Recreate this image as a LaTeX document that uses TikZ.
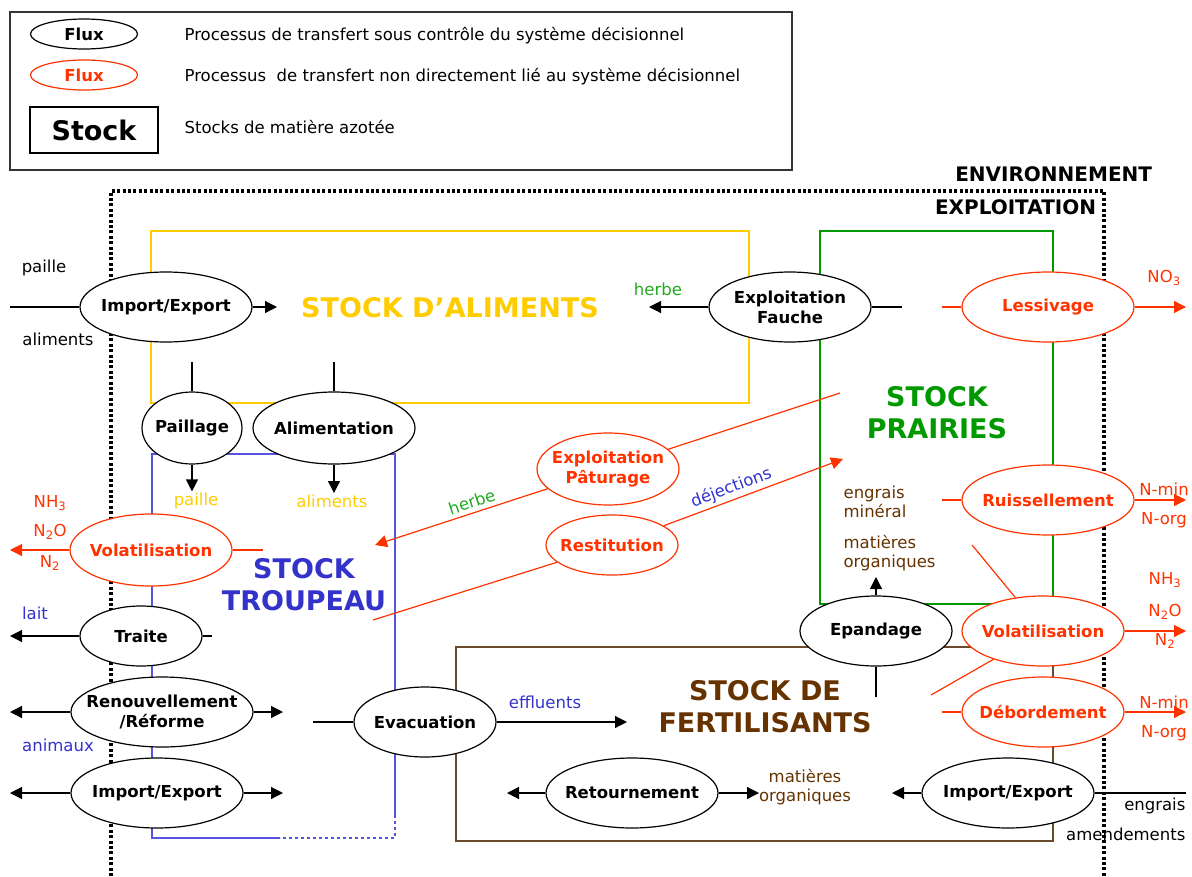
\documentclass[tikz,border=0pt]{standalone}
\usepackage{fontspec}
\setmainfont{DejaVu Sans}
\usetikzlibrary{shapes.geometric,arrows.meta}

\definecolor{rouge}{HTML}{FF3300}
\definecolor{jaune}{HTML}{FFCC00}
\definecolor{vert}{HTML}{009900}
\definecolor{vertclair}{HTML}{22AA22}
\definecolor{bleu}{HTML}{3333CC}
\definecolor{bleuclair}{HTML}{5555DD}
\definecolor{brun}{HTML}{663300}
\definecolor{brunclair}{HTML}{6B4A2B}

\newcommand\fluxfont{\fontsize{16.5}{20}\selectfont\bfseries}
\newcommand\txtfont{\fontsize{16.5}{19.5}\selectfont}
\newcommand\stockfont{\fontsize{27}{32}\selectfont\bfseries}
\newcommand\zonefont{\fontsize{20}{24}\selectfont\bfseries}

\tikzset{
  flux/.style={ellipse, draw, fill=white, inner xsep=-20pt, inner ysep=-14pt, align=center, font=\fluxfont},
  fluxrouge/.style={flux, draw=rouge, text=rouge},
  texte/.style={font=\txtfont, inner sep=1pt, align=center},
  fleche/.style={-{Triangle[length=12pt,width=12pt]}},
}

\begin{document}
\begin{tikzpicture}[x=1pt, y=-1pt, line width=1.2pt]
	\useasboundingbox (0,0) rectangle (1192,876);

	% Legend
	\draw[line width=2pt, black!80] (10,12) rectangle (792,170);
	\node[flux, minimum width=107pt, minimum height=30pt] (lflux) at (84,34) {Flux};
	\node[fluxrouge, minimum width=107pt, minimum height=30pt] (lfluxr) at (84,75) {Flux};
	\node[draw, minimum width=128pt, minimum height=46pt, inner sep=0pt, font=\stockfont] (lstock) at (94,130) {Stock};
	\node[texte, anchor=west] (lt1) at (183,36) {Processus de transfert sous contrôle du système décisionnel};
	\node[texte, anchor=west] (lt2) at (183,77) {Processus\ \ de transfert non directement lié au système décisionnel};
	\node[texte, anchor=west] (lt3) at (183,127) {Stocks de matière azotée};

	% Environment and farm
	\node[font=\zonefont, anchor=east] (env) at (1156,174) {ENVIRONNEMENT};
	\node[font=\zonefont, anchor=east] (expl) at (1100,207) {EXPLOITATION};
	\draw[line width=3.2pt, dash pattern=on 3pt off 2.4pt] (111,876) -- (111,191) -- (1104,191) -- (1104,876);

	% Stocks
	\draw[jaune] (151,231) rectangle (749,403);
	\draw[vert] (820,231) rectangle (1053,604);
	\draw[bleuclair] (280,838) -- (152,838) -- (152,454) -- (395,454) -- (395,815);
	\draw[bleuclair, dashed] (395,815) -- (395,838) -- (280,838);
	\draw[brunclair] (456,647) rectangle (1053,841);
	\node[font=\stockfont, text=jaune] (saliments) at (450,308) {STOCK D’ALIMENTS};
	\node[font=\stockfont, text=vert, align=center] (sprairies) at (937,413) {STOCK\\PRAIRIES};
	\node[font=\stockfont, text=bleu, align=center] (stroupeau) at (304,585) {STOCK\\TROUPEAU};
	\node[font=\stockfont, text=brun, align=center] (sfertil) at (765,707) {STOCK DE\\FERTILISANTS};

	% Flows
	\node[flux, minimum width=172pt, minimum height=70pt] (ie1) at (166,307) {Import/Export};
	\node[flux, minimum width=100pt, minimum height=72pt] (paillage) at (192,428) {Paillage};
	\node[flux, minimum width=162pt, minimum height=72pt] (alim) at (334,428) {Alimentation};
	\node[flux, minimum width=162pt, minimum height=70pt] (fauche) at (790,307) {Exploitation\\Fauche};
	\node[fluxrouge, minimum width=172pt, minimum height=70pt] (lessivage) at (1048,307) {Lessivage};
	\node[fluxrouge, minimum width=142pt, minimum height=72pt] (paturage) at (608,469) {Exploitation\\Pâturage};
	\node[fluxrouge, minimum width=132pt, minimum height=60pt] (restitution) at (612,545) {Restitution};
	\node[fluxrouge, minimum width=162pt, minimum height=72pt] (volg) at (151,550) {Volatilisation};
	\node[fluxrouge, minimum width=172pt, minimum height=70pt] (ruiss) at (1048,500) {Ruissellement};
	\node[flux, minimum width=122pt, minimum height=60pt] (traite) at (141,636) {Traite};
	\node[flux, minimum width=182pt, minimum height=70pt] (renouv) at (162,712) {Renouvellement\\/Réforme};
	\node[flux, minimum width=172pt, minimum height=70pt] (ie2) at (157,793) {Import/Export};
	\node[flux, minimum width=142pt, minimum height=70pt] (evac) at (425,722) {Evacuation};
	\node[flux, minimum width=152pt, minimum height=70pt] (epandage) at (876,631) {Epandage};
	\node[fluxrouge, minimum width=162pt, minimum height=70pt] (vold) at (1043,631) {Volatilisation};
	\node[fluxrouge, minimum width=162pt, minimum height=70pt] (debord) at (1043,712) {Débordement};
	\node[flux, minimum width=172pt, minimum height=70pt] (retour) at (632,793) {Retournement};
	\node[flux, minimum width=172pt, minimum height=70pt] (ie3) at (1008,793) {Import/Export};

	% Free ends
	\coordinate (ie1a) at (10,307);
	\coordinate (ie1b) at (277,307);
	\coordinate (paillin) at (192,362);
	\coordinate (alimin) at (334,362);
	\coordinate (faucheb) at (649,307);
	\coordinate (fauchea) at (902,307);
	\coordinate (lessa) at (942,307);
	\coordinate (lessb) at (1186,307);
	\coordinate (pata) at (840,393);
	\coordinate (patb) at (375,545);
	\coordinate (resta) at (373,620);
	\coordinate (restb) at (843,459);
	\coordinate (volga) at (263,550);
	\coordinate (volgb) at (10,550);
	\coordinate (traitea) at (212,636);
	\coordinate (traiteb) at (10,636);
	\coordinate (renouva) at (10,712);
	\coordinate (renouvb) at (283,712);
	\coordinate (ie2a) at (10,793);
	\coordinate (ie2b) at (283,793);
	\coordinate (evaca) at (313,722);
	\coordinate (evacb) at (627,722);
	\coordinate (retoura) at (507,793);
	\coordinate (retourb) at (759,793);
	\coordinate (ie3a) at (892,793);
	\coordinate (ie3b) at (1186,793);
	\coordinate (epana) at (876,577);
	\coordinate (epanb) at (876,697);
	\coordinate (ruissa) at (942,500);
	\coordinate (ruissb) at (1186,500);
	\coordinate (volda) at (972,545);
	\coordinate (voldb) at (931,695);
	\coordinate (voldc) at (1186,631);
	\coordinate (debora) at (942,712);
	\coordinate (deborb) at (1186,712);

	% Food and litter
	\draw (ie1a) -- (ie1);
	\draw[fleche] (ie1) -- (ie1b);
	\node[texte] (lpaille1) at (44,268) {paille};
	\node[texte] (laliments1) at (58,339) {aliments};
	\draw (paillin) -- (paillage);
	\draw (alimin) -- (alim);
	\node[texte, text=jaune] (lpaille2) at (196,501) {paille};
	\node[texte, text=jaune] (laliments2) at (332,501) {aliments};
	\draw[fleche] (paillage.south) -- (paillage.south |- lpaille2.north);
	\draw[fleche] (alim.south) -- (alim.south |- laliments2.north);
	\draw (fauchea) -- (fauche);
	\draw[fleche] (fauche) -- (faucheb);
	\node[texte, text=vertclair] (lherbe1) at (658,289) {herbe};

	% Grazing
	\draw[rouge] (pata) -- (paturage);
	\draw[rouge, fleche] (paturage) -- (patb) node[pos=0.42, above=3pt, sloped, texte, text=vertclair] (lherbe2) {herbe};
	\draw[rouge] (resta) -- (restitution);
	\draw[rouge, fleche] (restitution) -- (restb) node[pos=0.4, above=2pt, sloped, texte, text=bleu] (ldejections) {déjections};

	% Herd
	\draw[rouge] (volga) -- (volg);
	\draw[rouge, fleche] (volg) -- (volgb);
	\node[texte, text=rouge] (lnh3g) at (50,503) {NH\textsubscript{3}};
	\node[texte, text=rouge] (ln2og) at (50,532) {N\textsubscript{2}O};
	\node[texte, text=rouge] (ln2g) at (50,563) {N\textsubscript{2}};
	\draw (traitea) -- (traite);
	\draw[fleche] (traite) -- (traiteb);
	\node[texte, text=bleu] (llait) at (35,613) {lait};
	\draw[fleche] (renouv) -- (renouva);
	\draw[fleche] (renouv) -- (renouvb);
	\node[texte, text=bleu] (lanimaux) at (58,745) {animaux};
	\draw[fleche] (ie2) -- (ie2a);
	\draw[fleche] (ie2) -- (ie2b);

	% Fertilisers
	\draw (evaca) -- (evac);
	\draw[fleche] (evac) -- (evacb);
	\node[texte, text=bleu] (leffluents) at (545,702) {effluents};
	\draw[fleche] (retour) -- (retoura);
	\draw[fleche] (retour) -- (retourb);
	\node[texte, text=brun] (lmatieres2) at (805,787) {matières\\organiques};
	\draw[fleche] (ie3) -- (ie3a);
	\draw (ie3b) -- (ie3);
	\node[texte, anchor=east] (lengrais2) at (1187,806) {engrais};
	\node[texte, anchor=east] (lamend) at (1187,834) {amendements};
	\draw[fleche] (epandage.north) -- (epana);
	\draw (epanb) -- (epandage);
	\node[texte, anchor=west, text=brun, align=left] (lengrais1) at (842,502) {engrais\\minéral};
	\node[texte, anchor=west, text=brun, align=left] (lmatieres1) at (842,553) {matières\\organiques};

	% Losses
	\draw[rouge] (lessa) -- (lessivage);
	\draw[rouge, fleche] (lessivage) -- (lessb);
	\node[texte, text=rouge] (lno3) at (1164,278) {NO\textsubscript{3}};
	\draw[rouge] (ruissa) -- (ruiss);
	\draw[rouge, fleche] (ruiss) -- (ruissb);
	\node[texte, text=rouge] (lnminr) at (1164,489) {N-min};
	\node[texte, text=rouge] (lnorgr) at (1164,520) {N-org};
	\draw[rouge] (volda) -- (vold);
	\draw[rouge] (voldb) -- (vold);
	\draw[rouge, fleche] (vold) -- (voldc);
	\node[texte, text=rouge] (lnh3d) at (1165,580) {NH\textsubscript{3}};
	\node[texte, text=rouge] (ln2od) at (1165,612) {N\textsubscript{2}O};
	\node[texte, text=rouge] (ln2d) at (1165,641) {N\textsubscript{2}};
	\draw[rouge] (debora) -- (debord);
	\draw[rouge, fleche] (debord) -- (deborb);
	\node[texte, text=rouge] (lnmind) at (1164,702) {N-min};
	\node[texte, text=rouge] (lnorgd) at (1164,733) {N-org};
\end{tikzpicture}
\end{document}
